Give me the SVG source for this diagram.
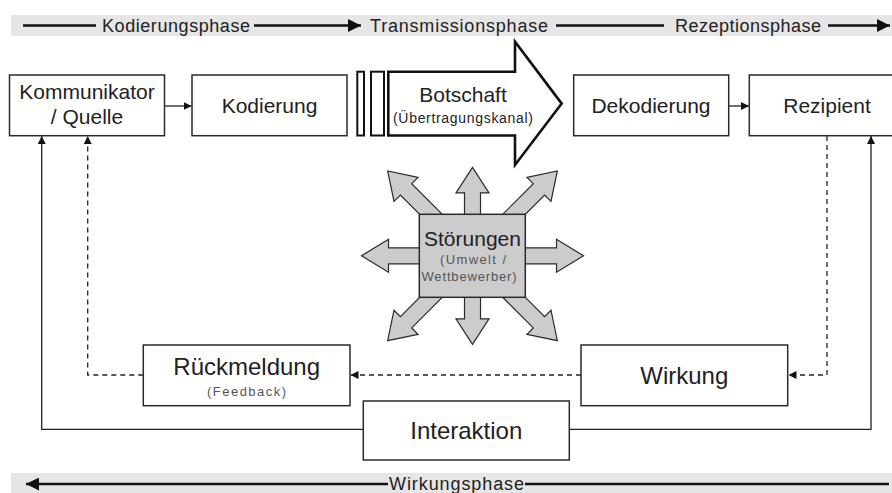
<svg xmlns="http://www.w3.org/2000/svg" width="892" height="493" viewBox="0 0 892 493">
<style>
  .box { fill: #ffffff; stroke: #2a2a2a; stroke-width: 1.5; }
  .lbl { font-family: "Liberation Sans", Arial, sans-serif; fill: #222222; text-anchor: middle; }
  .big { font-size: 21px; }
  .big2 { font-size: 24px; }
  .small { font-size: 13px; fill: #555555; }
  .phase { font-family: "Liberation Sans", Arial, sans-serif; font-size: 18px; fill: #222222; }
  .band { fill: #e6e6e6; }
  .pline { stroke: #111111; stroke-width: 2.6; fill: none; }
  .con { stroke: #222222; stroke-width: 1.3; fill: none; }
  .dash { stroke-dasharray: 5 4; }
  .storm { fill: #cccccc; stroke: #2a2a2a; stroke-width: 1.2; stroke-linejoin: miter; }
</style>
<defs>
  <marker id="ah" viewBox="0 0 10 10" refX="10" refY="5" markerWidth="8" markerHeight="8" markerUnits="userSpaceOnUse" orient="auto">
    <path d="M0,0 L10,5 L0,10 z" fill="#111111"/>
  </marker>
  <marker id="ahp" viewBox="0 0 10 10" refX="10" refY="5" markerWidth="5" markerHeight="5" orient="auto">
    <path d="M0,0 L10,5 L0,10 z" fill="#111111"/>
  </marker>
  <polygon id="arrH" points="0,-8 84,-8 84,-16.5 111,0 84,16.5 84,8 0,8"/>
  <polygon id="arrV" points="0,-8 63,-8 63,-16.5 88.5,0 63,16.5 63,8 0,8"/>
  <polygon id="arrD" points="0,-8 94,-8 94,-17 120,0 94,17 94,8 0,8"/>
</defs>

<!-- phase bands -->
<g id="phase-top">
  <rect class="band" x="11" y="15" width="881" height="21"/>
  <line class="pline" x1="23" y1="25.5" x2="96" y2="25.5"/>
  <text class="phase" x="102" y="32" textLength="148" lengthAdjust="spacing">Kodierungsphase</text>
  <line class="pline" x1="254" y1="25.5" x2="361" y2="25.5" marker-end="url(#ahp)"/>
  <text class="phase" x="370" y="32" textLength="178" lengthAdjust="spacing">Transmissionsphase</text>
  <line class="pline" x1="556" y1="25.5" x2="664" y2="25.5"/>
  <text class="phase" x="675" y="32" textLength="146" lengthAdjust="spacing">Rezeptionsphase</text>
  <line class="pline" x1="828" y1="25.5" x2="890" y2="25.5" marker-end="url(#ahp)"/>
</g>
<g id="phase-bottom">
  <rect class="band" x="11" y="473" width="881" height="20"/>
  <line class="pline" x1="388" y1="484" x2="26" y2="484" marker-end="url(#ahp)"/>
  <text class="phase" x="389" y="490" textLength="135" lengthAdjust="spacing">Wirkungsphase</text>
  <line class="pline" x1="525" y1="484" x2="889" y2="484"/>
</g>

<!-- connectors -->
<g id="connectors">
  <line class="con" x1="165" y1="106" x2="191.5" y2="106" marker-end="url(#ah)"/>
  <line class="con" x1="729" y1="106" x2="749" y2="106" marker-end="url(#ah)"/>
  <polyline class="con" points="363.3,429.3 41.7,429.3 41.7,136" marker-end="url(#ah)"/>
  <polyline class="con" points="569.3,429.3 871,429.3 871,136" marker-end="url(#ah)"/>
  <polyline class="con dash" points="143.3,375 87.7,375 87.7,136" marker-end="url(#ah)"/>
  <line class="con dash" x1="581" y1="375" x2="350.5" y2="375" marker-end="url(#ah)"/>
  <polyline class="con dash" points="827,136 827,375 788.5,375" marker-end="url(#ah)"/>
</g>

<!-- nodes -->
<g id="kommunikator">
  <rect class="box" x="9.5" y="75" width="155" height="60.7"/>
  <text class="lbl big" x="87" y="98.5">Kommunikator</text>
  <text class="lbl big" x="87" y="124">/ Quelle</text>
</g>
<g id="kodierung">
  <rect class="box" x="192" y="75" width="155" height="60.7"/>
  <text class="lbl big" x="269.5" y="113">Kodierung</text>
</g>
<g id="botschaft">
  <rect x="357.3" y="71.7" width="6.7" height="63.8" fill="#ffffff" stroke="#111111" stroke-width="2"/>
  <rect x="371" y="71.7" width="13" height="63.8" fill="#ffffff" stroke="#111111" stroke-width="2"/>
  <polygon points="388.3,71.7 515,71.7 515,41.7 561.7,103.6 515,165 515,135.5 388.3,135.5" fill="#ffffff" stroke="#111111" stroke-width="2.6" stroke-linejoin="miter"/>
  <text class="lbl big" x="463" y="102">Botschaft</text>
  <text class="lbl" x="463" y="122.5" font-size="14" fill="#444444" textLength="140" lengthAdjust="spacing">(Übertragungskanal)</text>
</g>
<g id="dekodierung">
  <rect class="box" x="573.7" y="75" width="155" height="60.7"/>
  <text class="lbl big" x="651" y="112.5">Dekodierung</text>
</g>
<g id="rezipient">
  <rect class="box" x="749.3" y="75" width="160" height="60.7"/>
  <text class="lbl big" x="827" y="112.5">Rezipient</text>
</g>
<g id="stoerungen">
  <g transform="translate(472.5,255.8)">
    <use href="#arrH" class="storm"/>
    <use href="#arrH" class="storm" transform="rotate(180)"/>
    <use href="#arrV" class="storm" transform="rotate(-90)"/>
    <use href="#arrV" class="storm" transform="rotate(90)"/>
    <use href="#arrD" class="storm" transform="rotate(-45)"/>
    <use href="#arrD" class="storm" transform="rotate(-135)"/>
    <use href="#arrD" class="storm" transform="rotate(45)"/>
    <use href="#arrD" class="storm" transform="rotate(135)"/>
  </g>
  <rect x="419.3" y="214.3" width="106" height="83" fill="#cccccc" stroke="#2a2a2a" stroke-width="1.5"/>
  <text class="lbl big" x="472.5" y="246">Störungen</text>
  <text class="lbl small" x="473" y="263.5" textLength="66" lengthAdjust="spacing">(Umwelt /</text>
  <text class="lbl small" x="469" y="281" textLength="95" lengthAdjust="spacing">Wettbewerber)</text>
</g>
<g id="rueckmeldung">
  <rect class="box" x="143.3" y="345" width="206.7" height="60.7"/>
  <text class="lbl big2" x="246.7" y="375">Rückmeldung</text>
  <text class="lbl small" x="246.5" y="396" textLength="79" lengthAdjust="spacing">(Feedback)</text>
</g>
<g id="wirkung">
  <rect class="box" x="581" y="345" width="206.7" height="60.7"/>
  <text class="lbl big2" x="684.3" y="383.5">Wirkung</text>
</g>
<g id="interaktion">
  <rect class="box" x="363.3" y="401" width="206" height="59"/>
  <text class="lbl big2" x="466.3" y="438.5">Interaktion</text>
</g>
</svg>
